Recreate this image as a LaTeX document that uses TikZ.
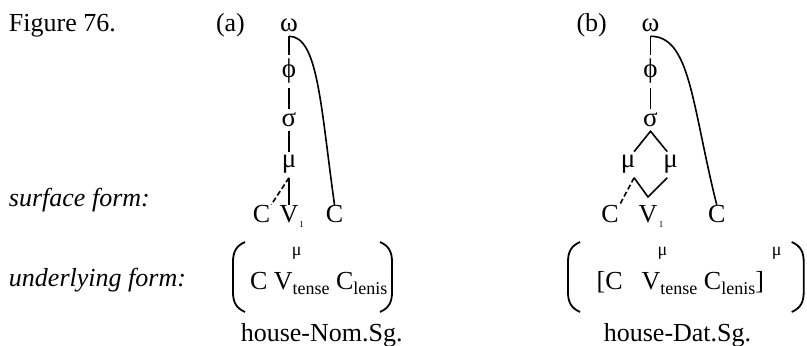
\documentclass[tikz,border=0pt]{standalone}
\usepackage{fontspec}
\setmainfont{Liberation Serif}
\newcommand\mysub[1]{\raisebox{-2.5pt}{\fontsize{9}{10}\selectfont #1}}
\begin{document}
\begin{tikzpicture}[x=0.5pt,y=-0.5pt,
  every node/.style={inner sep=0pt, outer sep=0pt, font=\fontsize{13}{15}\selectfont},
  tn/.style={anchor=base, outer sep=2pt, font=\fontsize{13.5}{15}\selectfont},
  bn/.style={anchor=base, outer sep=0.5pt},
  smallmu/.style={anchor=base, font=\fontsize{9}{10}\selectfont},
  tinyone/.style={anchor=base, font=\fontsize{4.5}{5}\selectfont},
  ital/.style={anchor=base west, font=\fontsize{13}{15}\selectfont\itshape},
  ln/.style={line width=0.8pt},
  dsh/.style={line width=0.8pt, dash pattern=on 2.6pt off 1.4pt},
  brk/.style={line width=0.9pt}]
\useasboundingbox (0,0) rectangle (807,346);

% labels
\node[anchor=base west] (fig) at (9,32) {Figure 76.};
\node[anchor=base west] (la) at (216,32) {(a)};
\node[anchor=base west] (lb) at (576.5,32) {(b)};
\node[ital] (surf) at (9,207) {surface form:};
\node[ital] (und) at (9,287) {underlying form:};

% tree (a)
\node[tn] (omA) at (289,32) {ω};
\node[tn] (phiA) at (289,78) {ϕ};
\node[tn] (sigA) at (289,127) {σ};
\node[tn] (muA) at (289,168) {μ};
\node[bn] (CaA) at (261.5,223) {C};
\node[bn] (VA) at (289,223) {V};
\node[bn] (CbA) at (334.5,223) {C};
\node[tinyone] (oneA) at (301.5,228) {1};
\draw[ln] (omA.south) -- (phiA.north);
\draw[ln] (phiA.south) -- (sigA.north);
\draw[ln] (sigA.south) -- (muA.north);
\draw[ln] (muA.south) -- (VA.north);
\draw[dsh] (muA.south) -- (CaA.north east);
\draw[ln] (omA.south) .. controls +(29,0) and +(-14,-100) .. (CbA.north);

% tree (b)
\node[tn] (omB) at (650.5,32) {ω};
\node[tn] (phiB) at (650.5,78) {ϕ};
\node[tn] (sigB) at (650.5,127) {σ};
\node[tn] (muBL) at (628,168) {μ};
\node[tn] (muBR) at (670.7,168) {μ};
\node[bn] (CaB) at (610,223) {C};
\node[bn] (VB) at (648,223) {V};
\node[bn] (CbB) at (716.7,223) {C};
\node[tinyone] (oneB) at (661,228) {1};
\coordinate (apB) at (648,197);
\draw[ln] (omB.south) -- (phiB.north);
\draw[ln] (phiB.south) -- (sigB.north);
\draw[ln] (muBL.65) -- (sigB.south) -- (muBR.105);
\draw[ln] (muBL.-65) -- (apB) -- (muBR.-105);
\draw[dsh] (muBL.-65) -- (CaB.north east);
\draw[ln] (omB.south) .. controls +(40,0) and +(-25,-100) .. (CbB.north);

% underlying (a)
\node[anchor=base west] (uA) at (250,290) {C V\mysub{tense} C\mysub{lenis}};
\node[smallmu] (muUA) at (296.7,256) {μ};
\draw[brk] (245,242) .. controls (236,246) and (233,252) .. (233,262) -- (233,292) .. controls (233,302) and (236,308) .. (245,312);
\draw[brk] (380,242) .. controls (389,246) and (392,252) .. (392,262) -- (392,292) .. controls (392,302) and (389,308) .. (380,312);
\node[anchor=base] (hA) at (321.7,342) {house-Nom.Sg.};

% underlying (b)
\node[anchor=base west] (uB) at (596.7,290) {[C\hspace{9.5pt}V\mysub{tense} C\mysub{lenis}]};
\node[smallmu] (muUB1) at (662.5,256) {μ};
\node[smallmu] (muUB2) at (776.7,256) {μ};
\draw[brk] (580,242) .. controls (571,246) and (568,252) .. (568,262) -- (568,292) .. controls (568,302) and (571,308) .. (580,312);
\draw[brk] (791.7,242) .. controls (800.7,246) and (803.7,252) .. (803.7,262) -- (803.7,292) .. controls (803.7,302) and (800.7,308) .. (791.7,312);
\node[anchor=base] (hB) at (677.5,342) {house-Dat.Sg.};
\end{tikzpicture}
\end{document}
